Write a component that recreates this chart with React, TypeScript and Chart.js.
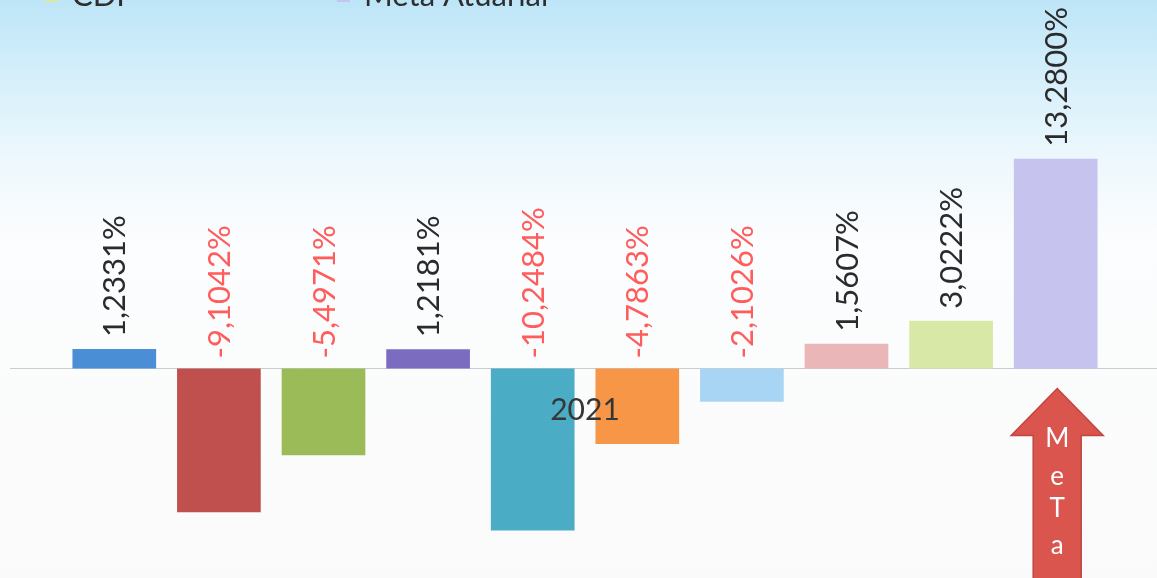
import React, { useEffect, useRef } from "react";
import { Chart, registerables } from "chart.js";

Chart.register(...registerables);

const categories = ["2021"];
const seriesNames = [
  "Série 1",
  "Série 2",
  "Série 3",
  "Série 4",
  "Série 5",
  "Série 6",
  "Série 7",
  "Série 8",
  "CDI",
  "Meta Atuarial",
];
const seriesValues = [
  1.2331, -9.1042, -5.4971, 1.2181, -10.2484, -4.7863, -2.1026, 1.5607, 3.0222,
  13.28,
];
const seriesColors = [
  "#4a8fd6",
  "#c0504d",
  "#9bbb59",
  "#7c6cc0",
  "#4bacc6",
  "#f79646",
  "#a9d5f4",
  "#ebb6b8",
  "#d8e8a6",
  "#c6c3ee",
];
const arrowLetters = ["M", "e", "T", "a"];

const W = 1157;
const H = 578;
const FONT = "Lato, 'Open Sans', sans-serif";

function fmt(v: number) {
  return v.toFixed(4).replace(".", ",") + "%";
}

const decorPlugin = {
  id: "decor",
  beforeDraw(chart: any) {
    const { ctx, width, height } = chart;
    ctx.save();
    const g = ctx.createLinearGradient(0, 0, 0, height);
    g.addColorStop(0, "#bde5f7");
    g.addColorStop(0.12, "#d3eefa");
    g.addColorStop(0.28, "#eef8fd");
    g.addColorStop(0.42, "#fcfdfe");
    g.addColorStop(1, "#fafafa");
    ctx.fillStyle = g;
    ctx.fillRect(0, 0, width, height);
    ctx.restore();
  },
  beforeDatasetsDraw(chart: any) {
    const { ctx, width } = chart;
    const y0 = chart.scales.y.getPixelForValue(0);
    ctx.save();
    ctx.strokeStyle = "#c9cdd0";
    ctx.lineWidth = 1;
    ctx.beginPath();
    ctx.moveTo(10, Math.round(y0) + 0.5);
    ctx.lineTo(width, Math.round(y0) + 0.5);
    ctx.stroke();
    ctx.restore();
  },
  afterDatasetsDraw(chart: any) {
    const { ctx } = chart;
    const y0 = chart.scales.y.getPixelForValue(0);
    ctx.save();
    ctx.font = `31px ${FONT}`;
    ctx.textAlign = "left";
    ctx.textBaseline = "middle";
    const xs: number[] = [];
    chart.data.datasets.forEach((ds: any, i: number) => {
      const meta = chart.getDatasetMeta(i);
      const el = meta.data[0];
      if (!el) return;
      xs.push(el.x);
      const v = ds.data[0] as number;
      const ay = v >= 0 ? el.y - 12 : y0 - 10;
      ctx.save();
      ctx.translate(el.x, ay);
      ctx.rotate(-Math.PI / 2);
      ctx.fillStyle = v >= 0 ? "#2b2b2b" : "#ff5c5c";
      ctx.fillText(fmt(v), 0, 1);
      ctx.restore();
    });
    // category label drawn at the axis
    const cx = (xs[0] + xs[xs.length - 1]) / 2;
    ctx.font = `30px ${FONT}`;
    ctx.textAlign = "center";
    ctx.textBaseline = "middle";
    ctx.fillStyle = "#363636";
    ctx.fillText(categories[0], cx, y0 + 42);
    ctx.restore();
  },
  afterDraw(chart: any) {
    const { ctx } = chart;
    const y0 = chart.scales.y.getPixelForValue(0);
    const n = chart.data.datasets.length;
    // legend grid: 4 columns, last row visible at top
    const cols = 4;
    const colX0 = 45;
    const colW = 292;
    const rows = Math.ceil(n / cols);
    ctx.save();
    ctx.font = `31px ${FONT}`;
    ctx.textBaseline = "alphabetic";
    ctx.textAlign = "left";
    chart.data.datasets.forEach((ds: any, i: number) => {
      const r = Math.floor(i / cols);
      const c = i % cols;
      const baseY = 6 - (rows - 1 - r) * 46;
      const x = colX0 + c * colW;
      ctx.fillStyle = ds.backgroundColor;
      ctx.fillRect(x, baseY - 17, 13, 13);
      ctx.fillStyle = "#2e2e2e";
      ctx.fillText(ds.label, x + 27, baseY);
    });
    ctx.restore();

    // arrow "MeTa" under the last bar
    const last = chart.getDatasetMeta(n - 1).data[0];
    if (!last) return;
    const ax = last.x + 1.5;
    const tipY = y0 + 20;
    const headY = y0 + 67;
    const headHalf = 46;
    const shaftHalf = 24;
    ctx.save();
    ctx.beginPath();
    ctx.moveTo(ax, tipY);
    ctx.lineTo(ax + headHalf, headY);
    ctx.lineTo(ax + shaftHalf, headY);
    ctx.lineTo(ax + shaftHalf, chart.height + 5);
    ctx.lineTo(ax - shaftHalf, chart.height + 5);
    ctx.lineTo(ax - shaftHalf, headY);
    ctx.lineTo(ax - headHalf, headY);
    ctx.closePath();
    ctx.fillStyle = "#d9554e";
    ctx.fill();
    ctx.strokeStyle = "#c2463f";
    ctx.lineWidth = 1.5;
    ctx.stroke();
    ctx.fillStyle = "#ffffff";
    ctx.font = `26px ${FONT}`;
    ctx.textAlign = "center";
    ctx.textBaseline = "middle";
    const offs = [70, 108, 140, 177];
    arrowLetters.forEach((t, k) => {
      ctx.fillText(t, ax, y0 + offs[k]);
    });
    ctx.restore();
  },
};

export default function App() {
  const ref = useRef<HTMLCanvasElement | null>(null);
  useEffect(() => {
    document.body.style.margin = "0";
    const canvas = ref.current;
    if (!canvas) return;
    const chart = new Chart(canvas, {
      type: "bar",
      data: {
        labels: categories,
        datasets: seriesNames.map((name, i) => ({
          label: name,
          data: [seriesValues[i]],
          backgroundColor: seriesColors[i],
          borderWidth: 0,
          categoryPercentage: 1,
          barPercentage: 0.8,
        })),
      },
      options: {
        responsive: false,
        animation: false,
        devicePixelRatio: 1,
        layout: { padding: { left: 62, right: 49, top: 0, bottom: 0 } },
        plugins: {
          legend: { display: false },
          tooltip: { enabled: false },
        },
        scales: {
          x: { display: false, grid: { display: false } },
          y: { display: false, min: -13.26, max: 23.32, grid: { display: false } },
        },
      },
      plugins: [decorPlugin],
    });
    return () => chart.destroy();
  }, []);
  return (
    <div style={{ position: "fixed", left: 0, top: 0, width: W, height: H }}>
      <canvas ref={ref} width={W} height={H} style={{ width: W, height: H, display: "block" }} />
    </div>
  );
}
